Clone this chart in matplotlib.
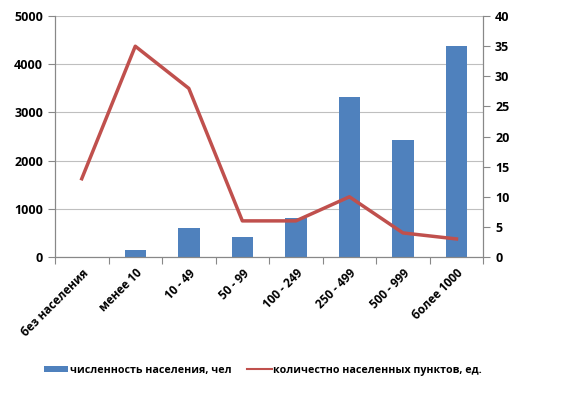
import matplotlib
matplotlib.use("Agg")
import matplotlib.pyplot as plt
import numpy as np

categories = ["без населения", "менее 10", "10 - 49", "50 - 99", "100 - 249", "250 - 499", "500 - 999", "более 1000"]
population = [0, 150, 600, 420, 810, 3320, 2430, 4380]
settlements = [13, 35, 28, 6, 6, 10, 4, 3]
bar_label = "численность населения, чел"
line_label = "количестно населенных пунктов, ед."

plt.rcParams['font.family'] = ['Open Sans', 'DejaVu Sans']
plt.rcParams['font.weight'] = 'bold'

fig = plt.figure(figsize=(5.65, 3.93), dpi=100)
ax = fig.add_axes([0.0973, 0.346, 0.758, 0.613])
ax2 = ax.twinx()

x = np.arange(len(categories))
ax.bar(x, population, width=0.4, color="#4F81BD", label=bar_label, zorder=2)
ax2.plot(x, settlements, color="#C0504D", lw=2.5, label=line_label, zorder=3)

ax.set_xlim(-0.5, len(categories) - 0.5)
ax.set_ylim(0, 5000)
ax.set_yticks(np.arange(0, 5001, 1000))
ax2.set_ylim(0, 40)
ax2.set_yticks(np.arange(0, 41, 5))

ax.grid(axis='y', color="#BFBFBF", lw=0.8, zorder=0)
ax.set_axisbelow(True)

ax.set_xticks(np.arange(-0.5, len(categories) + 0.5, 1))
ax.set_xticklabels([])
ax.set_xticks(x, minor=True)
ax.set_xticklabels(categories, minor=True, rotation=45, ha='right', rotation_mode='anchor', fontsize=8.5, fontweight='bold')
ax.tick_params(axis='x', which='minor', length=0, pad=7)
ax.tick_params(axis='x', which='major', length=5, color="#888888")
ax.tick_params(axis='y', length=5, color="#888888", labelsize=9)
ax2.tick_params(axis='y', length=5, color="#888888", labelsize=9)

for a in (ax, ax2):
    a.spines['top'].set_visible(False)
    for s in ('left', 'right', 'bottom'):
        a.spines[s].set_color("#888888")

h1, l1 = ax.get_legend_handles_labels()
h2, l2 = ax2.get_legend_handles_labels()
leg = fig.legend(h1 + h2, l1 + l2, loc='center', bbox_to_anchor=(0.465, 0.058), ncol=2,
                 frameon=False, fontsize=7.7, handlelength=2.3, handleheight=0.6,
                 columnspacing=1.5, handletextpad=0.1)
leg.get_lines()[0].set_linewidth(1.5)

fig.savefig("out.png", dpi=100)
